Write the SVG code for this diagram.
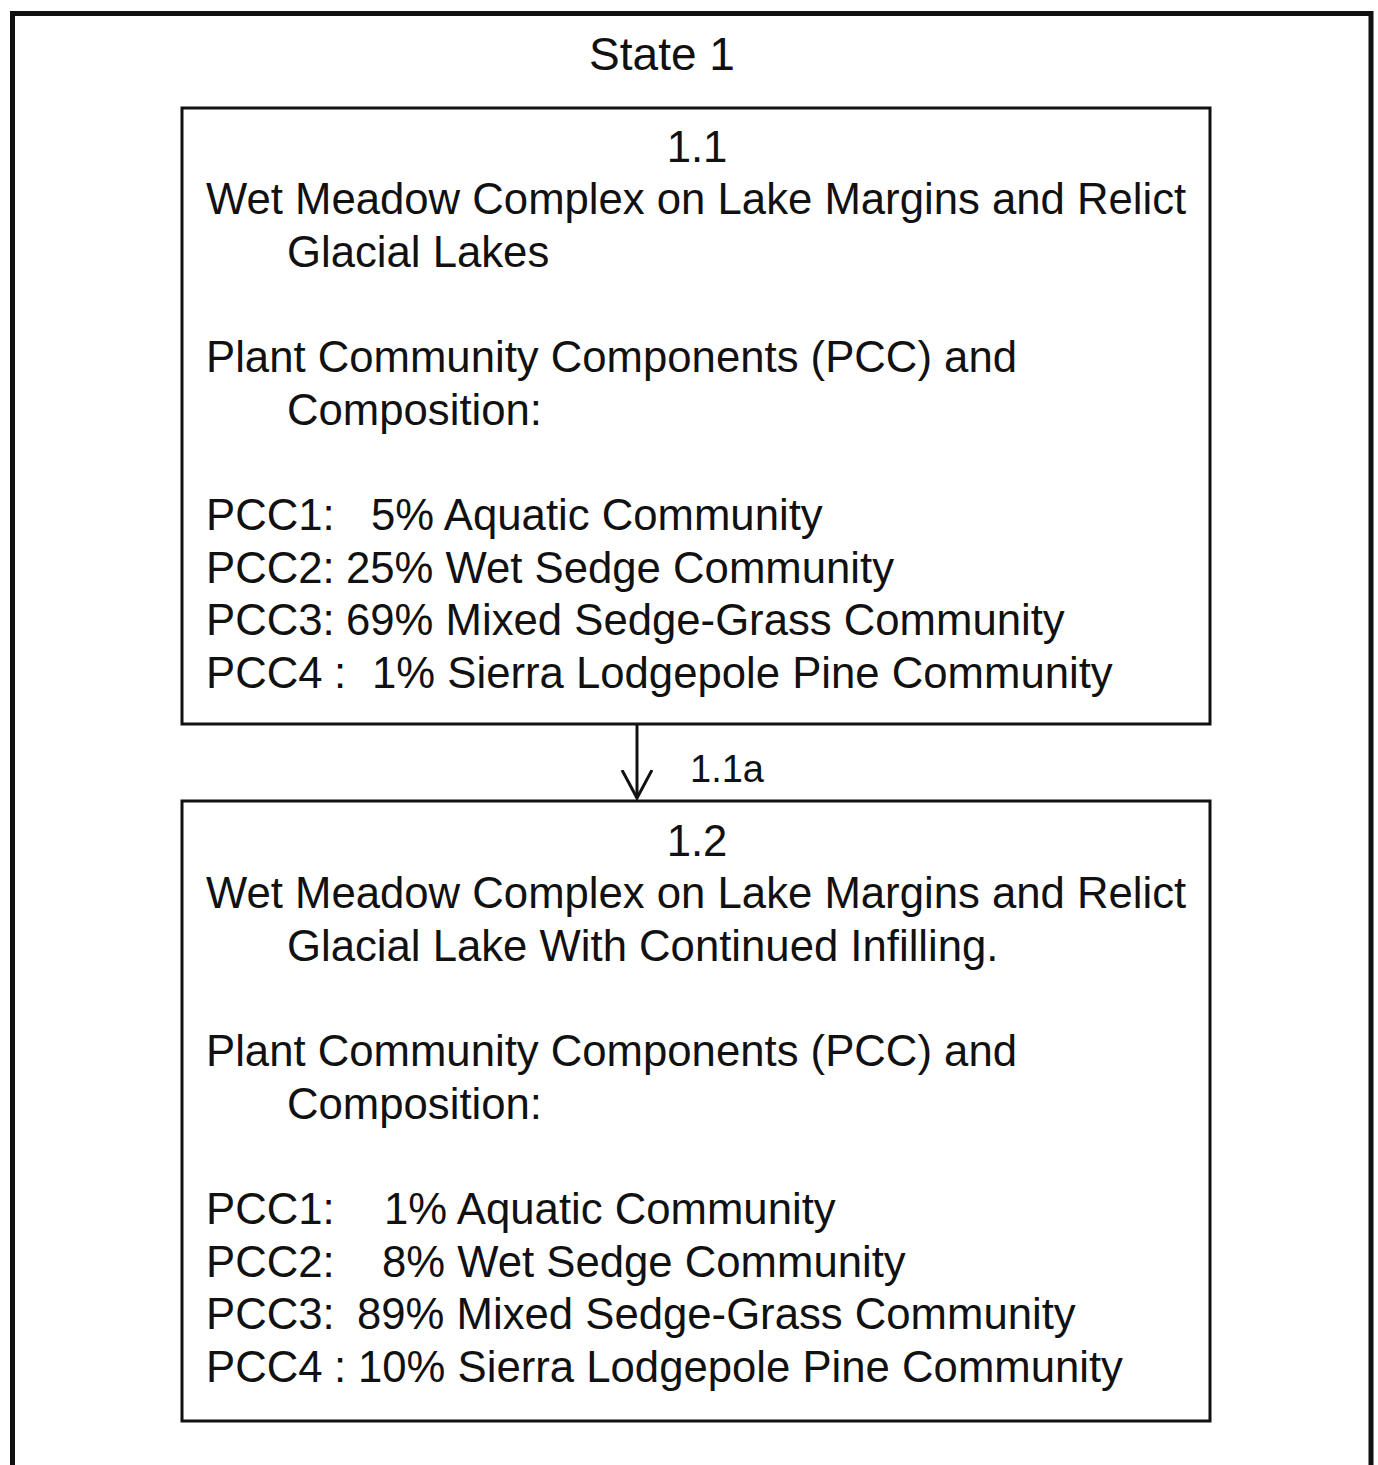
<svg xmlns="http://www.w3.org/2000/svg" width="1378" height="1465" viewBox="0 0 1378 1465">
<defs>
<style>
.t{font-family:"Liberation Sans",Arial,sans-serif;font-size:43.7px;fill:#111}
.c{text-anchor:middle}
.box{fill:#fff;stroke:#111;stroke-width:3}
.conn{stroke:#111;stroke-width:3;fill:none}
</style>
<marker id="arr" markerWidth="32" markerHeight="34" refX="28" refY="16" orient="auto" markerUnits="userSpaceOnUse" viewBox="0 0 32 34">
<path d="M0,1 L28,16 L0,31" fill="none" stroke="#111" stroke-width="3"/>
</marker>
</defs>
<rect width="1378" height="1465" fill="#fff"/>
<g id="state1">
<rect x="12.5" y="13.5" width="1358.5" height="1480" fill="none" stroke="#111" stroke-width="5"/>
<text class="t c" x="662" y="70" style="font-size:46px">State 1</text>
</g>
<g id="node-1-1">
<rect class="box" x="182" y="108" width="1028" height="616"/>
<text class="t c" x="697" y="162">1.1</text>
<text class="t" x="206" y="214">Wet Meadow Complex on Lake Margins and Relict</text>
<text class="t" x="287" y="267">Glacial Lakes</text>
<text class="t" x="206" y="372">Plant Community Components (PCC) and</text>
<text class="t" x="287" y="425">Composition:</text>
<text class="t" y="530"><tspan x="206">PCC1:</tspan><tspan x="371">5% Aquatic Community</tspan></text>
<text class="t" y="583"><tspan x="206">PCC2:</tspan><tspan x="346">25% Wet Sedge Community</tspan></text>
<text class="t" y="635"><tspan x="206">PCC3:</tspan><tspan x="346">69% Mixed Sedge-Grass Community</tspan></text>
<text class="t" y="688"><tspan x="206">PCC4</tspan><tspan x="334">:</tspan><tspan x="372">1% Sierra Lodgepole Pine Community</tspan></text>
</g>
<g id="node-1-2">
<rect class="box" x="182" y="801" width="1028" height="620"/>
<text class="t c" x="697" y="856">1.2</text>
<text class="t" x="206" y="908">Wet Meadow Complex on Lake Margins and Relict</text>
<text class="t" x="287" y="961">Glacial Lake With Continued Infilling.</text>
<text class="t" x="206" y="1066">Plant Community Components (PCC) and</text>
<text class="t" x="287" y="1119">Composition:</text>
<text class="t" y="1224"><tspan x="206">PCC1:</tspan><tspan x="384">1% Aquatic Community</tspan></text>
<text class="t" y="1277"><tspan x="206">PCC2:</tspan><tspan x="382">8% Wet Sedge Community</tspan></text>
<text class="t" y="1329"><tspan x="206">PCC3:</tspan><tspan x="357">89% Mixed Sedge-Grass Community</tspan></text>
<text class="t" y="1382"><tspan x="206">PCC4</tspan><tspan x="334">:</tspan><tspan x="358">10% Sierra Lodgepole Pine Community</tspan></text>
</g>
<g id="connectors">
<line class="conn" x1="637" y1="725" x2="637" y2="798" marker-end="url(#arr)"/>
<text class="t" x="690" y="782" style="font-size:38px">1.1a</text>
</g>
</svg>
